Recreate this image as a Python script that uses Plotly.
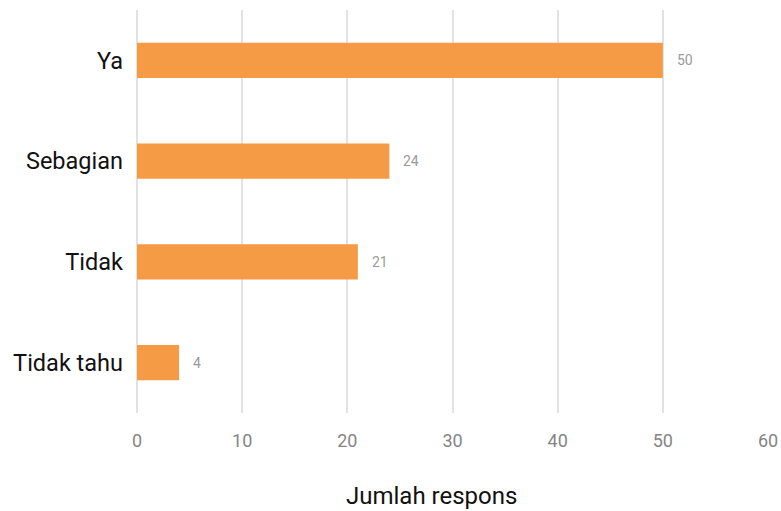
import plotly.graph_objects as go

categories = ["Ya", "Sebagian", "Tidak", "Tidak tahu"]
values = [50, 24, 21, 4]
tick_values = [0, 10, 20, 30, 40, 50, 60]
axis_title = "Jumlah respons"

bar_color = "#f59b45"
grid_color = "#e2e2e2"

fig = go.Figure(
    go.Bar(
        x=values,
        y=categories,
        orientation="h",
        marker=dict(color=bar_color, line=dict(width=0)),
        width=0.35,
        hoverinfo="skip",
    )
)

# value labels to the right of each bar
for cat, val in zip(categories, values):
    fig.add_annotation(
        x=val, y=cat, text=str(val), showarrow=False,
        xanchor="left", xshift=12,
        font=dict(family="Roboto", size=14, color="#9a9a9a"),
    )

# x-axis title placed as a paper annotation below the tick labels
fig.add_annotation(
    x=0.4675, y=-0.205, xref="paper", yref="paper",
    text=axis_title, showarrow=False,
    xanchor="center", yanchor="middle",
    font=dict(family="Roboto", size=24, color="#111"),
)

fig.update_layout(
    width=781, height=511,
    margin=dict(l=137, r=13, t=10, b=98, autoexpand=False),
    paper_bgcolor="white", plot_bgcolor="white",
    showlegend=False,
    font=dict(family="Roboto"),
    xaxis=dict(
        range=[0, 60],
        tickvals=tick_values,
        automargin=False,
        showgrid=True, gridcolor=grid_color, gridwidth=2,
        zeroline=True, zerolinecolor=grid_color, zerolinewidth=2,
        showline=False,
        tickfont=dict(family="Roboto", size=18, color="#858585"),
        ticklabelstandoff=15,
    ),
    yaxis=dict(
        categoryorder="array", categoryarray=categories[::-1],
        range=[-0.5, 3.5],
        automargin=False,
        showgrid=False, zeroline=False, showline=False,
        tickfont=dict(family="Roboto", size=23.5, color="#111"),
        ticklabelstandoff=13,
    ),
)

fig.write_html("out.html")
